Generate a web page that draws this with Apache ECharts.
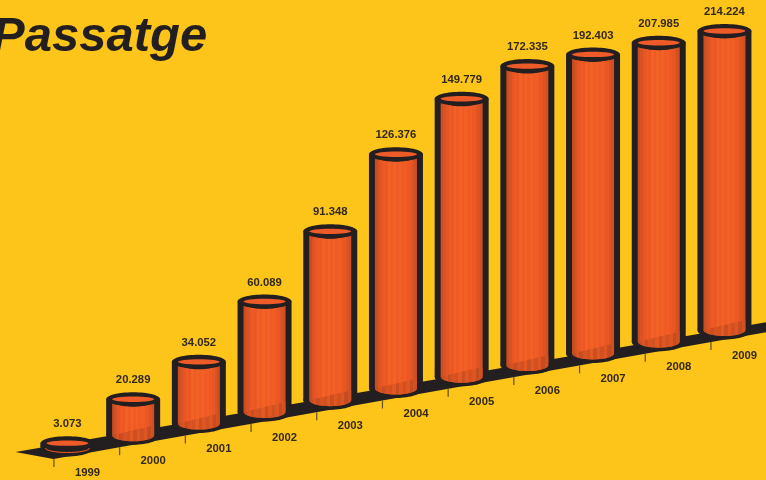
<!DOCTYPE html>
<html>
<head>
<meta charset="utf-8">
<style>html,body{margin:0;padding:0;background:#fdc51a}#c{width:766px;height:480px}</style>
<script src="https://cdn.jsdelivr.net/npm/echarts@6/dist/echarts.min.js"></script>
</head>
<body>
<div id="c"></div>
<script>
var titleText = 'Passatge';
var categories = ['1999','2000','2001','2002','2003','2004','2005','2006','2007','2008','2009'];
var values = [3.073,20.289,34.052,60.089,91.348,126.376,149.779,172.335,192.403,207.985,214.224];
var axisMin = 1, axisMax = 161;

var INK = '#231f20', TEXT = '#33291b';
var STEP = 11.7;      // vertical shear of the floor per category
var RX = 27, WALL = 6, RY = 7;

var bodyStops = ['#cb4e22','#d95223','#e55624','#ee5a24','#ec5824','#f26125','#ef5a25','#f36225','#f05a25','#f26025','#f05a25','#f15e25','#ed5824','#e85624','#dc5323','#d04f22'];
function stripes(list){
  var s = [];
  list.forEach(function(c,i){
    s.push({offset:i/list.length,color:c});
    s.push({offset:(i+1)/list.length,color:c});
  });
  return {type:'linear',x:0,y:0,x2:1,y2:0,colorStops:s};
}
var reflectStops = ['#c24a1f','#d6511f','#b9481f','#d24f20','#c54c1f','#de5521','#bd4a1f','#d95321','#c44c20','#da5421','#b9481f','#d15020'];

function arc(cx, cy, rx, ry, from, to, n){
  var p = [];
  for (var k = 0; k <= n; k++) {
    var a = from + (to - from) * k / n;
    p.push([cx + rx * Math.cos(a), cy + ry * Math.sin(a)]);
  }
  return p;
}

function renderFloor(params, api){
  var n = categories.length - 1;
  var a = api.coord([0, axisMin]);
  var b = api.coord([n, axisMin]);
  var by = b[1] - STEP * n;
  var dx = (b[0] - a[0]) / n, dy = (by - a[1]) / n;
  return {type:'polygon',silent:true,shape:{points:[
    [a[0]-52, a[1]+5],
    [a[0]-14, a[1]+12],
    [b[0]+dx-13, by+dy+12],
    [b[0]+dx-13, by+dy+2]
  ]},style:{fill:INK}};
}

function renderCylinder(params, api){
  var i = api.value(0), v = api.value(1);
  var shift = -STEP * i;
  var base = api.coord([i, axisMin]);
  var top = api.coord([i, Math.min(v, axisMax)]);
  var x = base[0], by = base[1] + shift, ty = top[1] + shift;
  var IR = RX - WALL;
  var kids = [];
  // outer dark shape
  kids.push({type:'ellipse',shape:{cx:x,cy:by,rx:RX,ry:9.5},style:{fill:INK}});
  kids.push({type:'rect',shape:{x:x-RX,y:ty,width:RX*2,height:Math.max(by-ty,0)},style:{fill:INK}});
  // body
  var bodyTop = arc(x, ty, IR, 7.5, Math.PI, 0, 16);
  var bottomArc = arc(x, by, IR, 6, 0, Math.PI, 16);
  if (by - ty > 6) {
    kids.push({type:'polygon',shape:{points:bodyTop.concat(bottomArc)},style:{fill:stripes(bodyStops)}});
    var rh = Math.min(by - ty - 4, 10);
    var refl = [[x-IR,by],[x+IR,by-rh]].concat(arc(x, by, IR, 6, 0, Math.PI, 16));
    kids.push({type:'polygon',shape:{points:refl},style:{fill:stripes(reflectStops),opacity:0.7}});
  } else {
    kids.push({type:'polyline',shape:{points:arc(x, by+1, IR+1, 4.5, 0, Math.PI, 16)},style:{fill:'none',stroke:'#f15a25',lineWidth:1}});
  }
  // top ring
  kids.push({type:'ellipse',shape:{cx:x,cy:ty,rx:RX,ry:RY},style:{fill:INK}});
  kids.push({type:'ellipse',shape:{cx:x,cy:ty,rx:IR,ry:2.7},style:{fill:'#ee5a28'}});
  // tick
  kids.push({type:'line',shape:{x1:x-13.5,y1:by+12,x2:x-13.5,y2:by+20},style:{stroke:'#5f5020',lineWidth:1.2}});
  // value label
  kids.push({type:'text',style:{text:v.toFixed(3),x:x,y:ty-19,align:'center',verticalAlign:'middle',font:'bold 11.3px "Liberation Sans", Arial, sans-serif',fill:TEXT}});
  // year label
  kids.push({type:'text',style:{text:categories[i],x:x+20,y:by+25.5,align:'center',verticalAlign:'middle',font:'bold 11.3px "Liberation Sans", Arial, sans-serif',fill:TEXT}});
  return {type:'group',children:kids};
}

var chart = echarts.init(document.getElementById('c'), null, {renderer:'canvas'});
chart.setOption({
  animation:false,
  backgroundColor:'#fdc51a',
  title:{text:titleText,left:-8,top:13,padding:0,textStyle:{fontFamily:'"Liberation Sans", Arial, sans-serif',fontWeight:'bold',fontStyle:'italic',fontSize:49,color:INK}},
  grid:{left:34.6,top:148,width:722.7,height:299},
  xAxis:{type:'category',data:categories,show:false},
  yAxis:{type:'value',min:axisMin,max:axisMax,show:false},
  series:[
    {type:'custom',silent:true,clip:false,z:1,coordinateSystem:'cartesian2d',renderItem:renderFloor,data:[[0,0]],encode:{x:0,y:1}},
    {type:'custom',silent:true,clip:false,z:2,coordinateSystem:'cartesian2d',renderItem:renderCylinder,data:values.map(function(v,i){return [i,v];}),encode:{x:0,y:1}}
  ]
});
</script>
</body>
</html>
